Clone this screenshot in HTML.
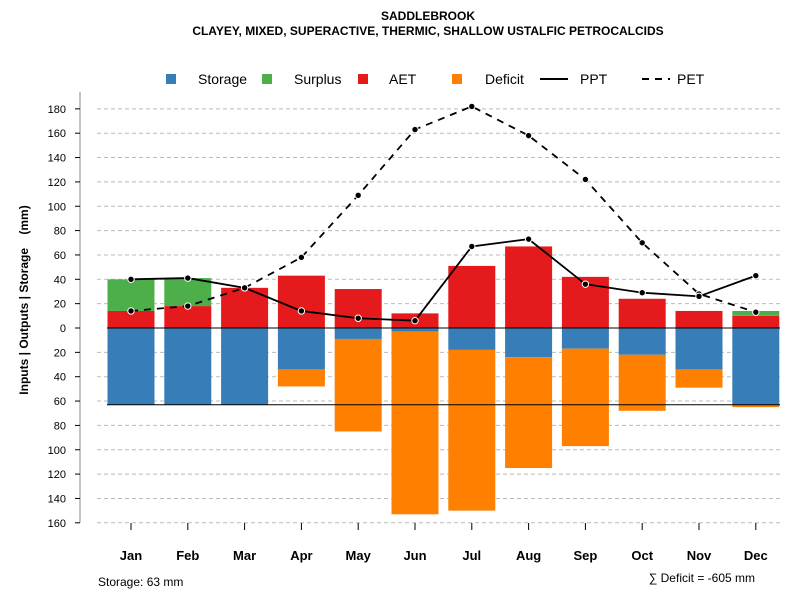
<!DOCTYPE html>
<html><head><meta charset="utf-8"><style>
body{margin:0;background:#fff;}
svg text{font-family:"Liberation Sans",sans-serif;}
</style></head><body>
<svg id="c" width="800" height="600" xmlns="http://www.w3.org/2000/svg">
<text x="428" y="20" text-anchor="middle" font-size="12" font-weight="bold">SADDLEBROOK</text>
<text x="428" y="35" text-anchor="middle" font-size="12" font-weight="bold">CLAYEY, MIXED, SUPERACTIVE, THERMIC, SHALLOW USTALFIC PETROCALCIDS</text>
<g>
<rect x="166" y="74" width="10" height="10" fill="#377eb8"/>
<text x="198" y="84" font-size="14">Storage</text>
<rect x="262" y="74" width="10" height="10" fill="#4daf4a"/>
<text x="294" y="84" font-size="14">Surplus</text>
<rect x="358" y="74" width="10" height="10" fill="#e41a1c"/>
<text x="389" y="84" font-size="14">AET</text>
<rect x="452" y="74" width="10" height="10" fill="#ff7f00"/>
<text x="485" y="84" font-size="14">Deficit</text>
<line x1="540" y1="79" x2="568" y2="79" stroke="#000" stroke-width="2"/>
<text x="580" y="84" font-size="14">PPT</text>
<line x1="642" y1="79" x2="670" y2="79" stroke="#000" stroke-width="2" stroke-dasharray="7,6"/>
<text x="677" y="84" font-size="14">PET</text>
</g>
<text transform="translate(28,300) rotate(-90)" text-anchor="middle" font-size="12" font-weight="bold">Inputs | Outputs | Storage&#160;&#160;&#160;&#160;(mm)</text>
<text x="98" y="586" font-size="12">Storage: 63 mm</text>
<text x="755" y="582" text-anchor="end" font-size="12">∑ Deficit = -605 mm</text>
<g id="plot"></g>
</svg>
<script>
const months=["Jan","Feb","Mar","Apr","May","Jun","Jul","Aug","Sep","Oct","Nov","Dec"];
const aet=[14,18,33,43,32,12,51,67,42,24,14,10];
const surplus=[26,23,0,0,0,0,0,0,0,0,0,4];
const storage=[63,63,63,34,9,3,18,24,17,22,34,63];
const deficit=[0,0,0,14,76,150,132,91,80,46,15,2];
const ppt=[40,41,33,14,8,6,67,73,36,29,26,43];
const pet=[14,18,33,58,109,163,182,158,122,70,28,13];
const yTicksUp=[0,20,40,60,80,100,120,140,160,180];
const yTicksDown=[20,40,60,80,100,120,140,160];
const capacity=63;
const NS="http://www.w3.org/2000/svg";
const g=document.getElementById("plot");
const y=v=>328-v*1.2175;
const x=i=>131+i*56.8;
const bw=47;
function mk(t,a){const e=document.createElementNS(NS,t);for(const k in a)e.setAttribute(k,a[k]);g.appendChild(e);return e;}
[...yTicksUp.filter(v=>v>0),...yTicksDown.map(v=>-v)].forEach(v=>{
 const l=mk("line",{x1:97,x2:780,y1:y(v),y2:y(v),stroke:"#bbb","stroke-dasharray":"4,3"});
 
 
});
const ya=mk("line",{x1:80,x2:80,y1:y(180)-17,y2:y(-160),stroke:"#888"});


[...yTicksUp.map(v=>[v,v]),...yTicksDown.map(v=>[-v,v])].forEach(([v,lab])=>{
 const t=mk("line",{x1:75,x2:80,y1:y(v),y2:y(v),stroke:"#000"});
 
 
 const tx=mk("text",{x:66,y:y(v)+4,"text-anchor":"end","font-size":11});
 tx.textContent=lab;
 
 
});
months.forEach((m,i)=>{
 const cx=x(i),x0=cx-bw/2;
 const r=(a,b,c,n)=>{const e=mk("rect",{x:x0,y:y(Math.max(a,b)),width:bw,height:Math.abs(y(a)-y(b)),fill:c});
  
  };
 r(0,-storage[i],"#377eb8","bar-storage-"+m.toLowerCase());
 if(deficit[i]>0) r(-storage[i],-storage[i]-deficit[i],"#ff7f00","bar-deficit-"+m.toLowerCase());
 r(0,aet[i],"#e41a1c","bar-aet-"+m.toLowerCase());
 if(surplus[i]>0) r(aet[i],aet[i]+surplus[i],"#4daf4a","bar-surplus-"+m.toLowerCase());
 const t=mk("line",{x1:cx,x2:cx,y1:523,y2:530,stroke:"#000"});
 
 
 const tx=mk("text",{x:cx,y:560,"text-anchor":"middle","font-size":13,"font-weight":"bold"});
 tx.textContent=m;
 
 
});
const z=mk("line",{x1:107,x2:780,y1:y(0),y2:y(0),stroke:"#000"});


const cp=mk("line",{x1:107,x2:780,y1:y(-capacity),y2:y(-capacity),stroke:"#000"});


function series(vals,dash,name){
 const p=mk("polyline",{points:vals.map((v,i)=>x(i)+","+y(v)).join(" "),fill:"none",stroke:"#000","stroke-width":1.8,"stroke-dasharray":dash});
 
 
 vals.forEach((v,i)=>{
  const c=mk("circle",{cx:x(i),cy:y(v),r:3.2,fill:"#000",stroke:"#fff","stroke-width":1});
  
  
 });
}
series(pet,"7,6","pet");
series(ppt,"none","ppt");
</script>
</body></html>
